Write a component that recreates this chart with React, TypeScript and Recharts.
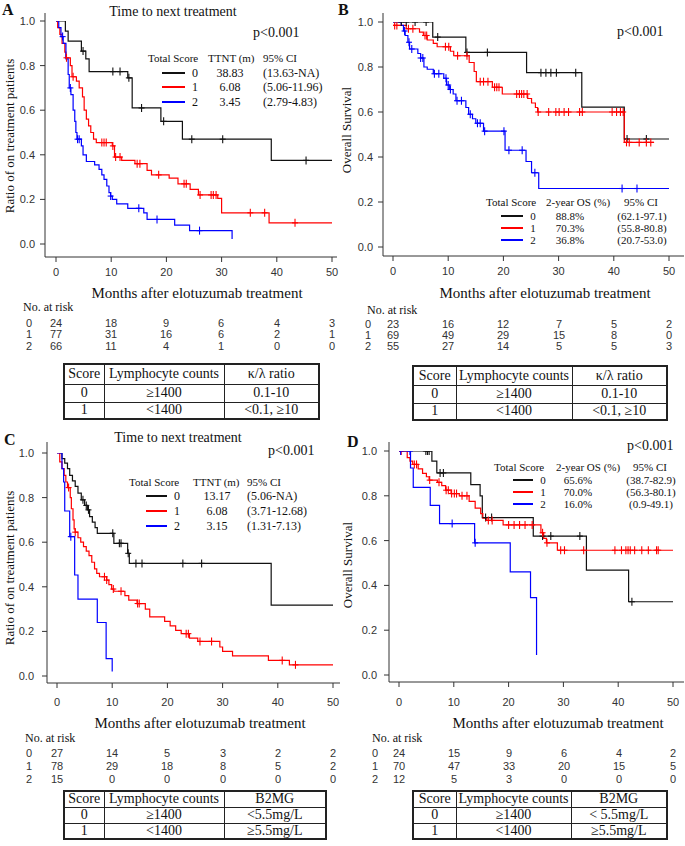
import { ComposedChart, Line, XAxis, YAxis } from "recharts";

type Step = [number, number];

const SERIF = '"Liberation Serif", "Times New Roman", serif';
const SANS = '"Liberation Sans", Arial, sans-serif';

const X_TICKS = [0, 10, 20, 30, 40, 50];
const Y_TICKS = [0, 0.2, 0.4, 0.6, 0.8, 1];
const SCORES = ["0", "1", "2"];
const COLORS = ["#111111", "#ff0000", "#0000ff"];

// ---- A: time to next treatment (lymphocytes + kappa/lambda)
const A0_STEPS: Step[] = [[0, 1], [1.7, 0.955], [2.2, 0.91], [4.6, 0.865], [5.4, 0.83], [6.0, 0.773], [13.0, 0.745], [13.8, 0.61], [19.0, 0.55], [22.9, 0.47], [39.0, 0.375], [50, 0.375]];
const A0_CENSOR = [4.9, 10.3, 11.6, 13.2, 15.5, 19.5, 24.6, 30.2, 45.3];
const A1_STEPS: Step[] = [[0, 1], [0.3, 0.97], [0.7, 0.94], [1.1, 0.9], [1.6, 0.86], [1.8, 0.835], [2.6, 0.8], [2.9, 0.75], [3.7, 0.73], [4.2, 0.7], [4.8, 0.66], [5.1, 0.6], [5.5, 0.56], [5.9, 0.53], [6.3, 0.5], [6.8, 0.47], [7.3, 0.455], [10.2, 0.44], [10.6, 0.39], [11.9, 0.375], [14.3, 0.36], [16.5, 0.33], [17.3, 0.31], [20.5, 0.295], [22.1, 0.27], [24.3, 0.245], [25.8, 0.22], [29.3, 0.205], [30.0, 0.14], [38.6, 0.095], [50, 0.095]];
const A1_CENSOR = [1.9, 3.1, 8.3, 8.7, 9.1, 10.3, 10.8, 11.6, 14.7, 15.2, 18.6, 23.2, 23.6, 26.1, 28.1, 28.5, 29.0, 35.2, 37.8, 43.3];
const A2_STEPS: Step[] = [[0, 1], [0.5, 0.97], [0.9, 0.93], [1.3, 0.9], [1.8, 0.83], [2.2, 0.76], [2.4, 0.7], [2.7, 0.67], [3.1, 0.6], [3.4, 0.55], [3.6, 0.5], [3.8, 0.47], [4.6, 0.44], [4.9, 0.4], [5.5, 0.37], [7.0, 0.355], [7.8, 0.335], [8.3, 0.31], [8.7, 0.29], [9.2, 0.26], [9.6, 0.23], [9.9, 0.215], [10.2, 0.2], [11.0, 0.18], [13.0, 0.16], [15.9, 0.14], [16.5, 0.11], [21.5, 0.085], [24.2, 0.06], [31.9, 0.022]];
const A2_CENSOR = [1.2, 2.6, 3.9, 4.2, 9.9, 15.0, 18.3, 26.0];
const A_STATS = [["38.83", "(13.63-NA)"], ["6.08", "(5.06-11.96)"], ["3.45", "(2.79-4.83)"]];
const A_RISK = [[24, 18, 9, 6, 4, 3], [77, 31, 16, 6, 2, 1], [66, 11, 4, 1, 0, 0]];

// ---- B: overall survival (lymphocytes + kappa/lambda)
const B0_STEPS: Step[] = [[0, 1], [7.2, 0.933], [13.2, 0.865], [24.2, 0.775], [34.2, 0.622], [41.9, 0.48], [50, 0.48]];
const B0_CENSOR = [1.5, 2.4, 4.0, 6.0, 8.1, 13.4, 17.1, 26.8, 27.7, 28.6, 29.6, 33.1, 42.4, 45.9];
const B1_STEPS: Step[] = [[0, 0.985], [2.4, 0.97], [4.8, 0.955], [5.5, 0.94], [6.2, 0.92], [7.3, 0.905], [8.0, 0.89], [10.4, 0.87], [11.0, 0.85], [13.8, 0.82], [14.7, 0.78], [15.1, 0.735], [18.0, 0.71], [19.8, 0.68], [24.4, 0.66], [25.1, 0.64], [25.8, 0.62], [26.2, 0.6], [41.9, 0.465], [47.3, 0.465]];
const B1_CENSOR = [0.3, 0.7, 2.8, 3.6, 5.8, 6.1, 9.5, 10.1, 11.7, 13.4, 15.8, 16.4, 17.2, 18.4, 18.8, 19.2, 22.4, 22.9, 23.3, 23.7, 24.3, 26.3, 28.2, 29.5, 30.1, 31.0, 31.8, 33.8, 34.3, 39.7, 40.5, 41.2, 41.7, 42.3, 42.8, 44.6, 45.9, 46.7];
const B2_STEPS: Step[] = [[0, 1], [1.5, 0.985], [1.9, 0.96], [2.2, 0.94], [2.7, 0.91], [3.0, 0.88], [4.5, 0.86], [5.0, 0.84], [5.6, 0.8], [6.2, 0.79], [7.3, 0.77], [9.2, 0.75], [9.7, 0.72], [10.2, 0.7], [10.9, 0.68], [11.4, 0.65], [13.2, 0.62], [13.7, 0.59], [14.4, 0.57], [15.0, 0.55], [16.4, 0.515], [20.3, 0.43], [24.1, 0.38], [25.1, 0.33], [26.4, 0.26], [50, 0.26]];
const B2_CENSOR = [2.1, 2.9, 3.4, 5.0, 5.4, 7.5, 8.3, 9.6, 10.0, 10.4, 11.6, 12.4, 14.0, 15.3, 15.8, 16.6, 20.1, 21.0, 23.4, 25.7, 41.5, 44.2];
const B_STATS = [["88.8%", "(62.1-97.1)"], ["70.3%", "(55.8-80.8)"], ["36.8%", "(20.7-53.0)"]];
const B_RISK = [[23, 16, 12, 7, 5, 2], [69, 49, 29, 15, 8, 0], [55, 27, 14, 5, 5, 3]];

// ---- C: time to next treatment (lymphocytes + B2MG)
const C0_STEPS: Step[] = [[0.5, 1], [0.9, 0.975], [1.4, 0.955], [1.9, 0.93], [2.3, 0.9], [2.8, 0.875], [3.3, 0.85], [3.8, 0.82], [4.4, 0.79], [5.0, 0.765], [5.5, 0.745], [5.9, 0.715], [6.4, 0.69], [6.9, 0.665], [7.3, 0.64], [10.3, 0.595], [12.8, 0.55], [13.1, 0.505], [38.8, 0.318], [50, 0.318]];
const C0_CENSOR = [4.7, 5.3, 5.7, 10.1, 11.3, 11.6, 12.9, 14.3, 15.4, 22.8, 26.2];
const C1_STEPS: Step[] = [[0, 1], [0.5, 0.96], [0.9, 0.93], [1.3, 0.9], [1.6, 0.87], [1.9, 0.845], [2.4, 0.8], [2.6, 0.75], [2.9, 0.7], [3.1, 0.66], [3.3, 0.645], [3.8, 0.62], [4.3, 0.6], [4.8, 0.58], [5.3, 0.56], [5.8, 0.54], [6.3, 0.51], [6.8, 0.48], [7.2, 0.46], [7.7, 0.445], [9.0, 0.43], [9.4, 0.41], [9.9, 0.39], [10.3, 0.38], [12.3, 0.36], [13.0, 0.34], [14.5, 0.325], [16.0, 0.3], [16.8, 0.265], [19.5, 0.245], [20.5, 0.225], [21.5, 0.205], [22.5, 0.19], [24.0, 0.17], [25.5, 0.155], [29.5, 0.13], [30.0, 0.11], [31.8, 0.09], [38.3, 0.07], [42.1, 0.05], [50, 0.05]];
const C1_CENSOR = [2.1, 3.3, 8.6, 9.0, 10.2, 11.6, 14.6, 14.9, 23.4, 23.8, 25.9, 28.0, 40.8, 43.2];
const C2_STEPS: Step[] = [[0, 1], [0.9, 0.93], [1.2, 0.87], [1.4, 0.74], [2.3, 0.625], [3.2, 0.453], [3.8, 0.345], [7.3, 0.24], [8.9, 0.078], [10.0, 0.02]];
const C2_CENSOR = [2.5];
const C_STATS = [["13.17", "(5.06-NA)"], ["6.08", "(3.71-12.68)"], ["3.15", "(1.31-7.13)"]];
const C_RISK = [[27, 14, 5, 3, 2, 2], [78, 29, 18, 8, 5, 2], [15, 0, 0, 0, 0, 0]];

// ---- D: overall survival (lymphocytes + B2MG)
const D0_STEPS: Step[] = [[0, 1], [6.0, 0.955], [6.9, 0.902], [13.1, 0.85], [14.8, 0.8], [15.2, 0.703], [24.5, 0.62], [34.2, 0.468], [41.9, 0.327], [50, 0.327]];
const D0_CENSOR = [4.9, 5.2, 5.5, 7.5, 8.1, 15.8, 16.9, 26.2, 27.7, 33.0, 42.5];
const D1_STEPS: Step[] = [[0, 1], [1.5, 0.97], [2.0, 0.955], [2.5, 0.94], [3.5, 0.92], [4.3, 0.9], [5.0, 0.885], [5.5, 0.87], [7.0, 0.86], [7.8, 0.845], [8.5, 0.825], [9.5, 0.81], [11.0, 0.8], [12.8, 0.775], [13.9, 0.745], [14.9, 0.72], [15.3, 0.7], [16.0, 0.69], [19.0, 0.67], [25.9, 0.635], [26.4, 0.61], [26.9, 0.59], [28.9, 0.557], [50, 0.557]];
const D1_CENSOR = [0.4, 2.8, 3.2, 5.6, 7.3, 8.6, 9.0, 9.6, 10.1, 10.5, 11.5, 12.4, 16.3, 17.0, 20.0, 21.0, 22.0, 23.0, 24.3, 26.2, 27.0, 29.5, 30.2, 33.7, 39.4, 40.6, 41.4, 41.8, 42.2, 43.0, 44.3, 45.5, 47.0, 47.3];
const D2_STEPS: Step[] = [[0, 1], [2.1, 0.924], [2.6, 0.838], [5.7, 0.757], [7.4, 0.676], [13.8, 0.59], [20.3, 0.46], [24.0, 0.345], [25.1, 0.089]];
const D2_CENSOR = [0.3, 2.0, 9.7, 13.9];
const D_STATS = [["65.6%", "(38.7-82.9)"], ["70.0%", "(56.3-80.1)"], ["16.0%", "(0.9-49.1)"]];
const D_RISK = [[24, 15, 9, 6, 4, 2], [70, 47, 33, 20, 15, 5], [12, 5, 3, 0, 0, 0]];

const TTNT_HEAD = ["Total Score", "TTNT (m)", "95% CI"];
const OS_HEAD = ["Total Score", "2-year OS (%)", "95% CI"];
const KL_TABLE = [["Score", "Lymphocyte counts", "κ/λ ratio"], ["0", "≥1400", "0.1-10"], ["1", "<1400", "<0.1, ≥10"]];
const C_TABLE = [["Score", "Lymphocyte counts", "B2MG"], ["0", "≥1400", "<5.5mg/L"], ["1", "<1400", "≥5.5mg/L"]];
const D_TABLE = [["Score", "Lymphocyte counts", "B2MG"], ["0", "≥1400", "< 5.5mg/L"], ["1", "<1400", "≥5.5mg/L"]];

type Row = { t: number; s: number; c: boolean };

// merge step points and censor marks into one series (censor sits on the current level)
function curve(steps: Step[], censor: number[]): Row[] {
  const rows: Row[] = steps.map(([t, s]) => ({ t, s, c: false }));
  censor.forEach((t) => {
    let s = steps[0][1];
    steps.forEach(([st, sv]) => {
      if (st <= t) s = sv;
    });
    rows.push({ t, s, c: true });
  });
  return rows.sort((a, b) => a.t - b.t || (a.c ? 1 : -1));
}

const tickStyle = { fontSize: 11, fill: "#333", fontFamily: SANS };

function Txt(props: {
  x: number;
  y: number;
  children: React.ReactNode;
  size?: number;
  anchor?: "start" | "middle" | "end";
  family?: string;
  bold?: boolean;
  rotate?: number;
  color?: string;
}) {
  const { x, y, children, size = 12, anchor = "middle", family = SERIF, bold, rotate, color = "#111" } = props;
  const tx = anchor === "middle" ? "-50%" : anchor === "end" ? "-100%" : "0";
  return (
    <div
      style={{
        position: "absolute",
        left: x,
        top: y,
        transform: `translate(${tx}, -50%)${rotate ? ` rotate(${rotate}deg)` : ""}`,
        fontSize: size,
        fontFamily: family,
        fontWeight: bold ? "bold" : "normal",
        color,
        whiteSpace: "nowrap",
        lineHeight: 1,
      }}
    >
      {children}
    </div>
  );
}

type Layout = {
  letter: [string, number, number];
  title?: [number, number];
  plot: { left: number; right: number; top: number; bottom: number };
  pad: { l: number; r: number; t: number; b: number };
  yTickMargin: number;
  xTickMargin: number;
  yLabel: [string, number, number];
  xLabel: [number, number];
  p: [number, number];
  legend: { size: number; headY: number; heads: number[]; rowsY: number[]; line: [number, number]; score: number; stat: number; ci: number; ciCenter: boolean };
  risk: { title: [number, number]; label: number; cols: number[]; rowsY: number[] };
  table: { x: number; y: number; widths: number[]; heights: number[] };
};

function KmChart({ L, curves }: { L: Layout; curves: Row[][] }) {
  const yAxisW = 45;
  const marginTop = 5;
  const marginRight = 4;
  const xAxisH = 30;
  const left = L.plot.left - yAxisW;
  const top = L.plot.top - marginTop;
  const width = L.plot.right + marginRight - left;
  const height = L.plot.bottom + xAxisH - top;
  return (
    <div style={{ position: "absolute", left, top }}>
      <ComposedChart width={width} height={height} margin={{ top: marginTop, right: marginRight, bottom: 0, left: 0 }}>
        <XAxis
          type="number"
          dataKey="t"
          domain={[0, 50]}
          ticks={X_TICKS}
          interval={0}
          padding={{ left: L.pad.l, right: L.pad.r }}
          height={xAxisH}
          tickSize={5}
          tickMargin={L.xTickMargin}
          tick={tickStyle}
          stroke="#333"
          allowDataOverflow
        />
        <YAxis
          type="number"
          dataKey="s"
          domain={[0, 1]}
          ticks={Y_TICKS}
          interval={0}
          padding={{ top: L.pad.t, bottom: L.pad.b }}
          width={yAxisW}
          tickSize={5}
          tickMargin={L.yTickMargin}
          tick={tickStyle}
          tickFormatter={(v: number) => v.toFixed(1)}
          stroke="#333"
          allowDataOverflow
        />
        {curves.map((rows, i) => (
          <Line
            key={i}
            data={rows}
            dataKey="s"
            type="stepAfter"
            stroke={COLORS[i]}
            strokeWidth={1.2}
            activeDot={false}
            isAnimationActive={false}
            dot={(p: any) =>
              p.payload && p.payload.c ? (
                <g key={`c${i}-${p.index}`}>
                  <line x1={p.cx} x2={p.cx} y1={p.cy - 4} y2={p.cy + 4} stroke={COLORS[i]} strokeWidth={1.1} />
                  <line x1={p.cx - 3} x2={p.cx + 3} y1={p.cy} y2={p.cy} stroke={COLORS[i]} strokeWidth={1.1} />
                </g>
              ) : (
                <g key={`n${i}-${p.index}`} />
              )
            }
          />
        ))}
      </ComposedChart>
    </div>
  );
}

function ScoreTable({ x, y, widths, heights, cells }: { x: number; y: number; widths: number[]; heights: number[]; cells: string[][] }) {
  return (
    <table
      style={{
        position: "absolute",
        left: x,
        top: y,
        borderCollapse: "collapse",
        tableLayout: "fixed",
        width: widths.reduce((a, b) => a + b, 0),
        fontFamily: SERIF,
        fontSize: 14,
        color: "#111",
        border: "2px solid #222",
      }}
    >
      <colgroup>
        {widths.map((w, i) => (
          <col key={i} style={{ width: w }} />
        ))}
      </colgroup>
      <tbody>
        {cells.map((r, i) => (
          <tr key={i} style={{ height: heights[i] }}>
            {r.map((c, j) => (
              <td key={j} style={{ border: "1px solid #222", textAlign: "center", padding: 0, lineHeight: 1 }}>
                {c}
              </td>
            ))}
          </tr>
        ))}
      </tbody>
    </table>
  );
}

function Panel(props: {
  L: Layout;
  curves: Row[][];
  title?: string;
  heads: string[];
  stats: string[][];
  risk: number[][];
  table: string[][];
}) {
  const { L, curves, title, heads, stats, risk, table } = props;
  const lg = L.legend;
  return (
    <>
      <KmChart L={L} curves={curves} />
      <Txt x={L.letter[1]} y={L.letter[2]} size={16} bold anchor="start">
        {L.letter[0]}
      </Txt>
      {title && L.title && (
        <Txt x={L.title[0]} y={L.title[1]} size={14}>
          {title}
        </Txt>
      )}
      <Txt x={L.yLabel[1]} y={L.yLabel[2]} size={13} rotate={-90}>
        {L.yLabel[0]}
      </Txt>
      <Txt x={L.xLabel[0]} y={L.xLabel[1]} size={15}>
        Months after elotuzumab treatment
      </Txt>
      <Txt x={L.p[0]} y={L.p[1]} size={14} anchor="start">
        p&lt;0.001
      </Txt>
      {heads.map((h, i) => (
        <Txt key={h} x={lg.heads[i]} y={lg.headY} size={11} anchor="start">
          {h}
        </Txt>
      ))}
      {SCORES.map((s, i) => (
        <div key={s}>
          <div
            style={{
              position: "absolute",
              left: lg.line[0],
              top: lg.rowsY[i] - 1,
              width: lg.line[1] - lg.line[0],
              height: 2,
              background: COLORS[i],
            }}
          />
          <Txt x={lg.score} y={lg.rowsY[i]} size={lg.size}>
            {s}
          </Txt>
          <Txt x={lg.stat} y={lg.rowsY[i]} size={lg.size}>
            {stats[i][0]}
          </Txt>
          <Txt x={lg.ci} y={lg.rowsY[i]} size={lg.size} anchor={lg.ciCenter ? "middle" : "start"}>
            {stats[i][1]}
          </Txt>
        </div>
      ))}
      <Txt x={L.risk.title[0]} y={L.risk.title[1]} size={12} anchor="start">
        No. at risk
      </Txt>
      {risk.map((row, i) => (
        <div key={i}>
          <Txt x={L.risk.label} y={L.risk.rowsY[i]} size={11} family={SANS} color="#333">
            {SCORES[i]}
          </Txt>
          {row.map((n, j) => (
            <Txt key={j} x={L.risk.cols[j]} y={L.risk.rowsY[i]} size={11} family={SANS} color="#333">
              {n}
            </Txt>
          ))}
        </div>
      ))}
      <ScoreTable x={L.table.x} y={L.table.y} widths={L.table.widths} heights={L.table.heights} cells={table} />
    </>
  );
}

const LAYOUT_A: Layout = {
  letter: ["A", 2, 10],
  title: [173, 12],
  plot: { left: 45, right: 337, top: 13, bottom: 257 },
  pad: { l: 11, r: 5, t: 8, b: 13 },
  yTickMargin: 5,
  xTickMargin: 6,
  yLabel: ["Ratio of on treatment patients", 9, 136],
  xLabel: [197, 293],
  p: [253, 33],
  legend: { size: 12, headY: 58, heads: [148, 208, 263], rowsY: [73, 87, 102], line: [162, 185], score: 195, stat: 230, ci: 263, ciCenter: false },
  risk: { title: [23, 307], label: 29, cols: [56, 111, 166, 221, 277, 332], rowsY: [323, 334, 346] },
  table: { x: 63, y: 363, widths: [40, 120, 95], heights: [20, 18, 17] },
};

const LAYOUT_B: Layout = {
  letter: ["B", 338, 10],
  plot: { left: 383, right: 684, top: 13, bottom: 256 },
  pad: { l: 10, r: 15, t: 9, b: 9 },
  yTickMargin: 5,
  xTickMargin: 6,
  yLabel: ["Overall Survival", 346, 130],
  xLabel: [545, 293],
  p: [617, 32],
  legend: { size: 11, headY: 202, heads: [486, 546, 624], rowsY: [216, 228, 240], line: [501, 523], score: 533, stat: 570, ci: 642, ciCenter: true },
  risk: { title: [367, 310], label: 368, cols: [393, 448, 503, 559, 614, 669], rowsY: [324, 335, 346] },
  table: { x: 412, y: 365, widths: [43, 116, 95], heights: [19, 18, 17] },
};

const LAYOUT_C: Layout = {
  letter: ["C", 4, 440],
  title: [178, 438],
  plot: { left: 47, right: 340, top: 442, bottom: 683 },
  pad: { l: 10, r: 7, t: 11, b: 7 },
  yTickMargin: 8,
  xTickMargin: 10,
  yLabel: ["Ratio of on treatment patients", 9, 568],
  xLabel: [200, 723],
  p: [268, 451],
  legend: { size: 12, headY: 482, heads: [129, 193, 247], rowsY: [496, 511, 526], line: [146, 167], score: 177, stat: 217, ci: 247, ciCenter: false },
  risk: { title: [25, 738], label: 29, cols: [57, 112, 167, 223, 278, 333], rowsY: [753, 766, 779] },
  table: { x: 63, y: 790, widths: [40, 120, 102], heights: [16, 16, 16] },
};

const LAYOUT_D: Layout = {
  letter: ["D", 347, 442],
  plot: { left: 389, right: 684, top: 442, bottom: 682 },
  pad: { l: 10, r: 11, t: 9, b: 7 },
  yTickMargin: 7,
  xTickMargin: 11,
  yLabel: ["Overall Survival", 347, 565],
  xLabel: [558, 723],
  p: [627, 446],
  legend: { size: 11, headY: 467, heads: [494, 556, 633], rowsY: [480, 492, 504], line: [513, 533], score: 543, stat: 578, ci: 651, ciCenter: true },
  risk: { title: [372, 738], label: 375, cols: [399, 454, 509, 564, 619, 673], rowsY: [753, 766, 779] },
  table: { x: 412, y: 790, widths: [43, 115, 96], heights: [16, 16, 16] },
};

export default function App() {
  return (
    <div style={{ position: "absolute", left: 0, top: 0, width: 685, height: 846, overflow: "hidden", background: "#fff" }}>
      <Panel
        L={LAYOUT_A}
        title="Time to next treatment"
        curves={[curve(A0_STEPS, A0_CENSOR), curve(A1_STEPS, A1_CENSOR), curve(A2_STEPS, A2_CENSOR)]}
        heads={TTNT_HEAD}
        stats={A_STATS}
        risk={A_RISK}
        table={KL_TABLE}
      />
      <Panel
        L={LAYOUT_B}
        curves={[curve(B0_STEPS, B0_CENSOR), curve(B1_STEPS, B1_CENSOR), curve(B2_STEPS, B2_CENSOR)]}
        heads={OS_HEAD}
        stats={B_STATS}
        risk={B_RISK}
        table={KL_TABLE}
      />
      <Panel
        L={LAYOUT_C}
        title="Time to next treatment"
        curves={[curve(C0_STEPS, C0_CENSOR), curve(C1_STEPS, C1_CENSOR), curve(C2_STEPS, C2_CENSOR)]}
        heads={TTNT_HEAD}
        stats={C_STATS}
        risk={C_RISK}
        table={C_TABLE}
      />
      <Panel
        L={LAYOUT_D}
        curves={[curve(D0_STEPS, D0_CENSOR), curve(D1_STEPS, D1_CENSOR), curve(D2_STEPS, D2_CENSOR)]}
        heads={OS_HEAD}
        stats={D_STATS}
        risk={D_RISK}
        table={D_TABLE}
      />
    </div>
  );
}
